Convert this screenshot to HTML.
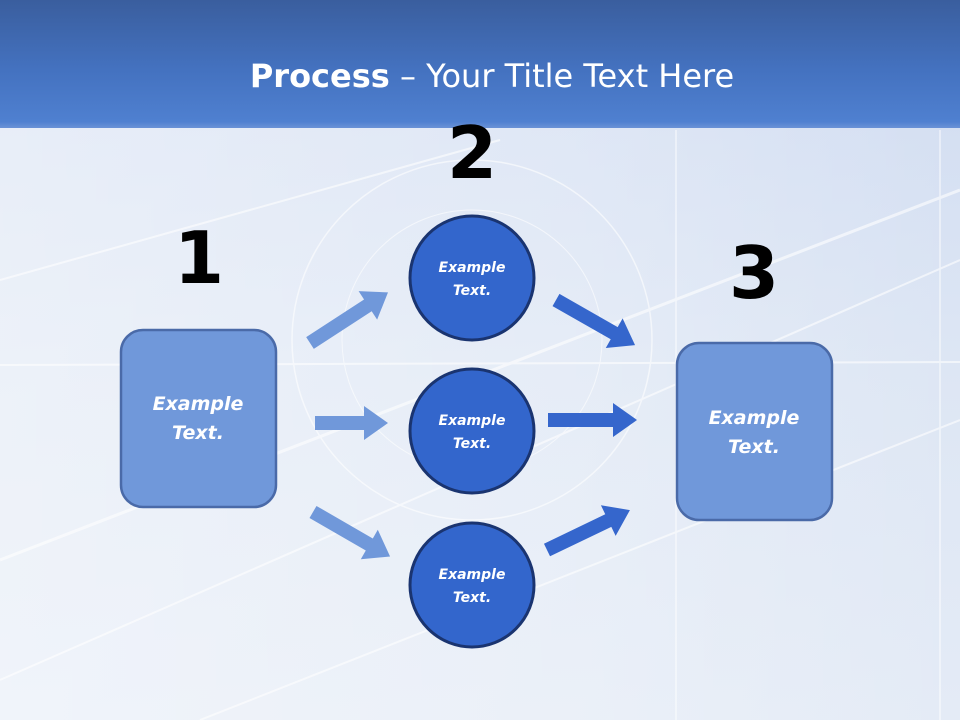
<!DOCTYPE html>
<html><head><meta charset="utf-8"><style>
html,body{margin:0;padding:0;width:960px;height:720px;overflow:hidden}
svg{display:block}
</style></head><body>
<svg width="960" height="720" viewBox="0 0 960 720" xmlns="http://www.w3.org/2000/svg">
<defs>
<linearGradient id="hdr" x1="0" y1="0" x2="0" y2="1">
<stop offset="0" stop-color="#3a5e9e"/>
<stop offset="0.55" stop-color="#4472c0"/>
<stop offset="0.95" stop-color="#4f80d0"/>
<stop offset="1" stop-color="#6a92d6"/>
</linearGradient>
<linearGradient id="bg" x1="0" y1="0" x2="0" y2="1">
<stop offset="0" stop-color="#9db6e4"/>
<stop offset="0.12" stop-color="#d3def2"/>
<stop offset="0.5" stop-color="#dde6f4"/>
<stop offset="1" stop-color="#e4ebf6"/>
</linearGradient>
<linearGradient id="glow" x1="0" y1="0" x2="1" y2="0">
<stop offset="0" stop-color="#ffffff" stop-opacity="0.45"/>
<stop offset="0.6" stop-color="#ffffff" stop-opacity="0.25"/>
<stop offset="1" stop-color="#ffffff" stop-opacity="0"/>
</linearGradient>
</defs>
<rect x="0" y="0" width="960" height="720" fill="url(#bg)"/>
<rect x="0" y="128" width="960" height="592" fill="url(#glow)"/>
<g stroke="#ffffff" fill="none" opacity="0.6">
<line x1="0" y1="365" x2="960" y2="362" stroke-width="2"/>
<line x1="676" y1="130" x2="676" y2="720" stroke-width="1.5"/>
<line x1="940" y1="130" x2="940" y2="720" stroke-width="1.5"/>
<line x1="0" y1="560" x2="960" y2="190" stroke-width="3"/>
<line x1="0" y1="680" x2="960" y2="260" stroke-width="2"/>
<line x1="0" y1="280" x2="500" y2="140" stroke-width="2"/>
<line x1="200" y1="720" x2="960" y2="420" stroke-width="2"/>
<circle cx="472" cy="340" r="180" stroke-width="1.5"/>
<circle cx="472" cy="340" r="130" stroke-width="1"/>
</g>
<rect x="0" y="0" width="960" height="128" fill="url(#hdr)"/>
<text x="492" y="87" text-anchor="middle" font-family="'DejaVu Sans','Liberation Sans',sans-serif" font-size="32" fill="#fff"><tspan font-weight="bold">Process</tspan> – Your Title Text Here</text>
<g font-family="'DejaVu Sans','Liberation Sans',sans-serif" font-weight="bold" font-size="72" fill="#000" text-anchor="middle">
<text x="472" y="178">2</text>
<text x="199" y="283">1</text>
<text x="754" y="298">3</text>
</g>
<g fill="#7098da">
<path transform="translate(310,343) rotate(-33)" d="M0,-7 L69,-7 L69,-17 L93,0 L69,17 L69,7 L0,7 Z"/>
<path transform="translate(315,423)" d="M0,-7 L49,-7 L49,-17 L73,0 L49,17 L49,7 L0,7 Z"/>
<path transform="translate(313,512) rotate(30)" d="M0,-7 L65,-7 L65,-17 L89,0 L65,17 L65,7 L0,7 Z"/>
</g>
<g fill="#3566cc">
<path transform="translate(556,300) rotate(29.7)" d="M0,-7 L67,-7 L67,-17 L91,0 L67,17 L67,7 L0,7 Z"/>
<path transform="translate(548,420)" d="M0,-7 L65,-7 L65,-17 L89,0 L65,17 L65,7 L0,7 Z"/>
<path transform="translate(547,550) rotate(-25.7)" d="M0,-7 L68,-7 L68,-17 L92,0 L68,17 L68,7 L0,7 Z"/>
</g>
<rect x="121" y="330" width="155" height="177" rx="22" fill="#7098da" stroke="#4a6aa8" stroke-width="2.5"/>
<rect x="677" y="343" width="155" height="177" rx="22" fill="#7098da" stroke="#4a6aa8" stroke-width="2.5"/>
<g fill="#3366cc" stroke="#1a3470" stroke-width="3">
<circle cx="472" cy="278" r="62"/>
<circle cx="472" cy="431" r="62"/>
<circle cx="472" cy="585" r="62"/>
</g>
<g font-family="'DejaVu Sans','Liberation Sans',sans-serif" font-weight="bold" font-style="italic" fill="#fff" text-anchor="middle">
<g font-size="19">
<text x="198" y="410">Example</text><text x="198" y="439">Text.</text>
<text x="754" y="424">Example</text><text x="754" y="453">Text.</text>
</g>
<g font-size="14">
<text x="472" y="272">Example</text><text x="472" y="295">Text.</text>
<text x="472" y="425">Example</text><text x="472" y="448">Text.</text>
<text x="472" y="579">Example</text><text x="472" y="602">Text.</text>
</g>
</g>
</svg>
</body></html>
